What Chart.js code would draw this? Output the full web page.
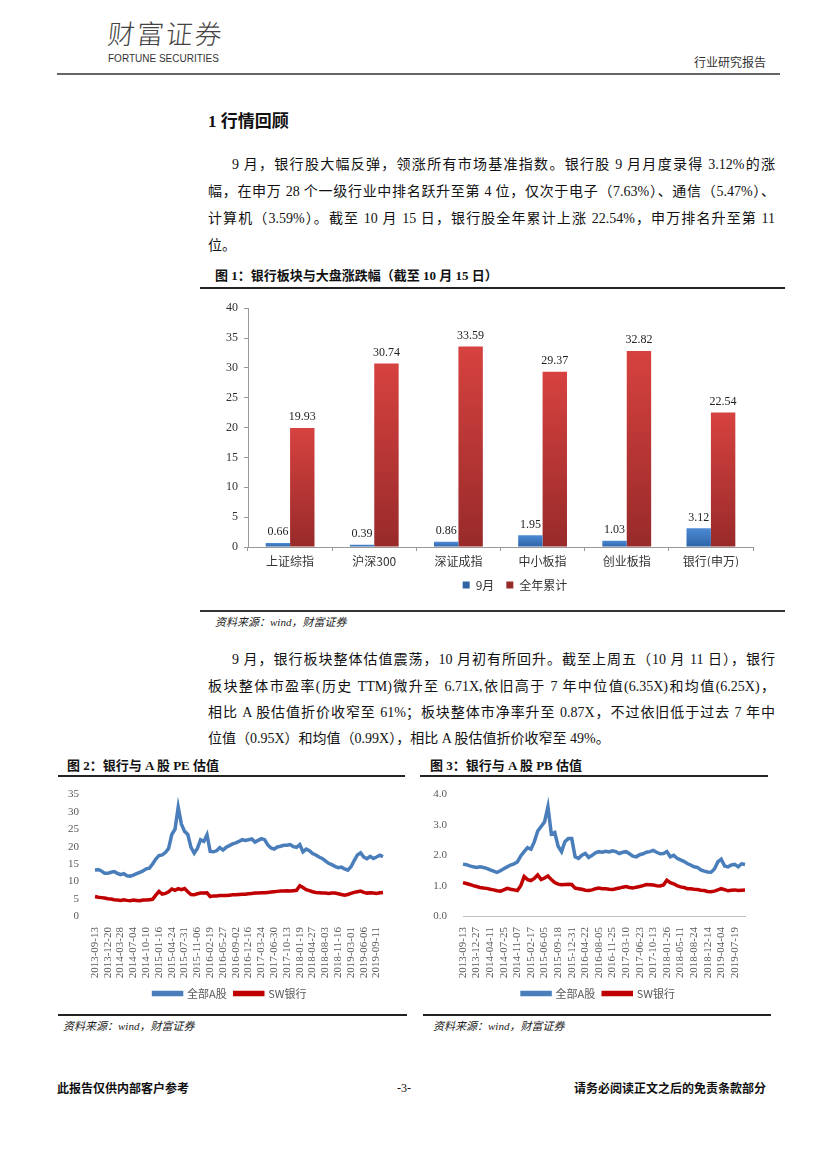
<!DOCTYPE html>
<html>
<head>
<meta charset="utf-8">
<script src="https://cdn.jsdelivr.net/npm/chart.js@4.4.0/dist/chart.umd.min.js"></script>
<style>
    body { margin: 0; background: #fff; }
    #page { position: relative; width: 827px; height: 1169px; overflow: hidden; font-family: "Liberation Serif", "Noto Sans CJK SC", serif; color: #111; }
    .abs { position: absolute; }
    .ln { position: absolute; left: 208px; width: 567px; font-size: 14px; line-height: 20px; text-align: justify; text-align-last: justify; }
    .last { text-align-last: left; }
    .ttl { position: absolute; font-size: 13px; font-weight: bold; line-height: 20px; }
    .rule { position: absolute; height: 2px; background: #222; }
    .src { position: absolute; font-size: 11px; font-style: italic; line-height: 18px; color: #222; }
    canvas { position: absolute; }
</style>
</head>
<body>
<div id="page">
    <div class="abs" style="left:108px;top:15px;font-size:27px;line-height:36px;color:#444;font-family:'Noto Sans CJK SC';font-weight:300;transform:skewX(-6deg);letter-spacing:2px;">财富证券</div>
    <div class="abs" style="left:108px;top:53px;font-size:10px;line-height:12px;color:#333;font-family:'Liberation Sans Narrow','Liberation Sans';">FORTUNE SECURITIES</div>
    <div class="abs" style="left:694px;top:54px;font-size:12px;line-height:16px;color:#333;font-family:'Noto Sans CJK SC';">行业研究报告</div>
    <div class="abs" style="left:57px;top:73px;width:723px;height:2px;background:#666;"></div>

    <div class="abs" style="left:208px;top:112px;font-size:17px;line-height:20px;font-weight:bold;">1 行情回顾</div>

    <div class="ln" style="top:155px;padding-left:24px;width:543px;">9 月，银行股大幅反弹，领涨所有市场基准指数。银行股 9 月月度录得 3.12%的涨</div>
    <div class="ln" style="top:182px;">幅，在申万 28 个一级行业中排名跃升至第 4 位，仅次于电子（7.63%）、通信（5.47%）、</div>
    <div class="ln" style="top:209px;">计算机（3.59%）。截至 10 月 15 日，银行股全年累计上涨 22.54%，申万排名升至第 11</div>
    <div class="ln last" style="top:236px;">位。</div>

    <div class="ttl" style="left:215px;top:266px;">图 1：银行板块与大盘涨跌幅（截至 10 月 15 日）</div>
    <div class="rule" style="left:200px;top:287px;width:585px;"></div>
    <canvas id="barChart" width="630" height="306" style="left:200px;top:295px;width:630px;height:306px;"></canvas>
    <div class="rule" style="left:200px;top:610px;width:585px;background:#333;"></div>
    <div class="src" style="left:215px;top:613px;">资料来源：wind，财富证券</div>

    <div class="ln" style="top:650px;padding-left:24px;width:543px;">9 月，银行板块整体估值震荡，10 月初有所回升。截至上周五（10 月 11 日），银行</div>
    <div class="ln" style="top:677px;">板块整体市盈率(历史 TTM)微升至 6.71X,依旧高于 7 年中位值(6.35X)和均值(6.25X)，</div>
    <div class="ln" style="top:703px;">相比 A 股估值折价收窄至 61%；板块整体市净率升至 0.87X，不过依旧低于过去 7 年中</div>
    <div class="ln last" style="top:729px;">位值（0.95X）和均值（0.99X），相比 A 股估值折价收窄至 49%。</div>

    <div class="ttl" style="left:67px;top:756px;">图 2：银行与 A 股 PE 估值</div>
    <div class="rule" style="left:58px;top:775px;width:347px;"></div>
    <div class="ttl" style="left:430px;top:756px;">图 3：银行与 A 股 PB 估值</div>
    <div class="rule" style="left:420px;top:775px;width:348px;"></div>

    <canvas id="peChart" width="380" height="229" style="left:40px;top:780px;width:380px;height:229px;"></canvas>
    <canvas id="pbChart" width="353" height="229" style="left:422px;top:780px;width:353px;height:229px;"></canvas>

    <div class="rule" style="left:58px;top:1014px;width:349px;"></div>
    <div class="rule" style="left:423px;top:1014px;width:348px;"></div>
    <div class="src" style="left:63px;top:1017px;">资料来源：wind，财富证券</div>
    <div class="src" style="left:433px;top:1017px;">资料来源：wind，财富证券</div>

    <div class="abs" style="left:57px;top:1079px;font-size:12px;line-height:18px;font-weight:bold;font-family:'Noto Sans CJK SC';">此报告仅供内部客户参考</div>
    <div class="abs" style="left:397px;top:1079px;font-size:12px;line-height:18px;">-3-</div>
    <div class="abs" style="left:560px;top:1079px;width:206px;text-align:right;font-size:12px;line-height:18px;font-weight:bold;font-family:'Noto Sans CJK SC';">请务必阅读正文之后的免责条款部分</div>
</div>

<script>
// 图1
var barCategories = ['上证综指', '沪深300', '深证成指', '中小板指', '创业板指', '银行(申万)'];
var septChange = [0.66, 0.39, 0.86, 1.95, 1.03, 3.12];
var ytdChange = [19.93, 30.74, 33.59, 29.37, 32.82, 22.54];

// 图2 PE
var peTicks = ['2013-09-13', '2013-12-20', '2014-03-28', '2014-07-04', '2014-10-10', '2015-01-16',
    '2015-04-24', '2015-07-31', '2015-11-06', '2016-02-19', '2016-05-27', '2016-09-02', '2016-12-16',
    '2017-03-24', '2017-06-30', '2017-10-13', '2018-01-19', '2018-04-27', '2018-08-03', '2018-11-16',
    '2019-03-01', '2019-06-06', '2019-09-11'];
var peAllA = [13.2, 13.4, 13.0, 12.3, 12.3, 12.6, 12.8, 12.3, 11.9, 12.2,
    11.6, 11.5, 11.8, 12.2, 12.6, 13.0, 13.6, 13.8, 15.0, 16.4,
    17.4, 17.6, 18.3, 19.5, 23.5, 25.0, 31.4, 26.5, 24.4, 23.5,
    19.8, 18.1, 19.5, 22.0, 21.5, 23.4, 18.6, 18.5, 18.8, 19.7,
    19.0, 19.8, 20.3, 20.8, 21.1, 21.5, 22.0, 21.8, 22.0, 22.2,
    21.3, 21.8, 22.3, 22.0, 20.5, 19.6, 19.3, 19.9, 20.1, 20.4,
    20.4, 20.6, 20.0, 19.8, 20.6, 18.5, 19.3, 18.8, 18.0, 17.6,
    17.0, 16.6, 15.9, 15.2, 14.8, 14.3, 13.9, 14.1, 13.6, 13.2,
    14.2, 16.0, 17.6, 18.2, 17.0, 16.5, 17.2, 16.6, 17.0, 17.5,
    17.1];
var peBank = [5.6, 5.4, 5.3, 5.2, 5.0, 4.9, 4.7, 4.6, 4.5, 4.7,
    4.5, 4.4, 4.6, 4.5, 4.4, 4.6, 4.6, 4.7, 4.8, 6.0,
    7.1, 6.3, 6.5, 7.0, 7.8, 7.4, 7.9, 7.6, 7.9, 7.0,
    6.2, 6.1, 6.4, 6.6, 6.6, 6.7, 5.6, 5.8, 5.8, 5.9,
    5.9, 5.9, 6.0, 6.1, 6.1, 6.2, 6.3, 6.3, 6.4, 6.5,
    6.6, 6.6, 6.7, 6.7, 6.8, 6.9, 7.0, 7.1, 7.2, 7.2,
    7.3, 7.2, 7.3, 7.4, 8.7, 8.2, 7.6, 7.3, 7.0, 6.8,
    6.7, 6.6, 6.6, 6.5, 6.6, 6.6, 6.4, 6.2, 6.0, 6.2,
    6.5, 6.8, 7.0, 7.2, 6.8, 6.6, 6.7, 6.6, 6.5, 6.7,
    6.8];

// 图3 PB
var pbTicks = ['2013-09-13', '2013-12-27', '2014-04-11', '2014-07-25', '2014-11-07', '2015-02-17',
    '2015-06-05', '2015-09-18', '2015-12-31', '2016-04-22', '2016-08-05', '2016-11-25', '2017-03-10',
    '2017-06-23', '2017-10-13', '2018-01-26', '2018-05-11', '2018-08-24', '2018-12-14', '2019-04-04',
    '2019-07-19'];
var pbAllA = [1.71, 1.69, 1.65, 1.62, 1.60, 1.62, 1.60, 1.57, 1.52, 1.48,
    1.44, 1.49, 1.56, 1.62, 1.68, 1.72, 1.78, 1.98, 2.12, 2.25,
    2.20, 2.45, 2.80, 2.95, 3.10, 3.60, 2.70, 2.75, 2.30, 2.12,
    2.45, 2.55, 2.55, 1.95, 1.90, 2.00, 2.06, 1.93, 2.00, 2.08,
    2.12, 2.10, 2.13, 2.11, 2.15, 2.12, 2.06, 2.10, 2.12, 2.05,
    1.97, 1.95, 2.02, 2.05, 2.10, 2.12, 2.16, 2.10, 2.05, 2.06,
    2.12, 1.95, 2.00, 1.90, 1.85, 1.80, 1.73, 1.68, 1.62, 1.60,
    1.52, 1.48, 1.45, 1.44, 1.55, 1.78, 1.87, 1.65, 1.62, 1.68,
    1.70, 1.62, 1.72, 1.70];
var pbBank = [1.10, 1.07, 1.04, 1.00, 0.97, 0.94, 0.92, 0.91, 0.88, 0.86,
    0.83, 0.82, 0.86, 0.91, 0.88, 0.86, 0.84, 1.00, 1.30, 1.20,
    1.17, 1.24, 1.35, 1.20, 1.25, 1.32, 1.20, 1.10, 1.05, 1.03,
    1.04, 1.05, 1.04, 0.92, 0.90, 0.88, 0.85, 0.84, 0.86, 0.90,
    0.92, 0.90, 0.90, 0.88, 0.87, 0.90, 0.92, 0.95, 0.97, 0.94,
    0.92, 0.95, 0.97, 1.00, 1.04, 1.03, 1.02, 1.00, 0.99, 1.02,
    1.18, 1.10, 1.06, 1.00, 0.96, 0.94, 0.90, 0.90, 0.88, 0.87,
    0.85, 0.84, 0.81, 0.80, 0.82, 0.86, 0.90, 0.87, 0.83, 0.85,
    0.86, 0.84, 0.85, 0.86];

var pointsPerTick = 4;

Chart.defaults.font.family = '"Liberation Serif", "Noto Sans CJK SC", serif';
Chart.defaults.color = '#404040';
Chart.defaults.animation = false;

function barGradient(top, bottom, flat) {
    return function (context) {
        var chart = context.chart;
        var y = chart.scales.y;
        if (!chart.chartArea || !y || context.raw == null) return flat;
        var y0 = y.getPixelForValue(0);
        var y1 = y.getPixelForValue(context.raw);
        if (!isFinite(y0) || !isFinite(y1) || y0 === y1) return flat;
        var g = chart.ctx.createLinearGradient(0, y1, 0, y0);
        g.addColorStop(0, top);
        g.addColorStop(1, bottom);
        return g;
    };
}

// empty scale on the right, only there to move the legend like in the original
function spacerAxis(width) {
    return {
        position: 'right',
        display: true,
        grid: { display: false },
        border: { display: false },
        ticks: { display: false },
        afterFit: function (scale) { scale.width = width; }
    };
}

var barValueLabels = {
    id: 'barValueLabels',
    afterDatasetsDraw: function (chart) {
        var ctx = chart.ctx;
        ctx.save();
        ctx.font = '12px "Liberation Serif"';
        ctx.fillStyle = '#222';
        ctx.textAlign = 'center';
        ctx.textBaseline = 'middle';
        chart.data.datasets.forEach(function (ds, i) {
            chart.getDatasetMeta(i).data.forEach(function (bar, j) {
                ctx.fillText(ds.data[j].toFixed(2), bar.x, bar.y - 11);
            });
        });
        ctx.restore();
    }
};

new Chart(document.getElementById('barChart'), {
    type: 'bar',
    data: {
        labels: barCategories,
        datasets: [{
            label: '9月',
            data: septChange,
            backgroundColor: barGradient('#4b8ad4', '#2f63a6', '#3a74c0')
        }, {
            label: '全年累计',
            data: ytdChange,
            backgroundColor: barGradient('#d6423f', '#982a2a', '#c23a36')
        }]
    },
    options: {
        responsive: false,
        layout: { padding: { top: 12, right: 0, left: 0, bottom: 0 } },
        datasets: { bar: { categoryPercentage: 0.58, barPercentage: 1.0 } },
        scales: {
            x: {
                grid: { display: true, drawOnChartArea: false, tickLength: 4, color: '#999', offset: true },
                border: { color: '#999' },
                ticks: { font: { size: 12, family: '"Noto Sans CJK SC"' }, color: '#333', padding: 3, maxRotation: 0 },
                afterFit: function (scale) { scale.height = 20; }
            },
            y: {
                min: 0, max: 40,
                grid: { display: true, drawOnChartArea: false, tickLength: 4, color: '#999' },
                border: { color: '#999' },
                ticks: { stepSize: 5, font: { size: 12 }, color: '#333', padding: 6 },
                afterFit: function (scale) { scale.width = 48; }
            },
            spacer: spacerAxis(77)
        },
        plugins: {
            legend: {
                position: 'bottom',
                labels: { boxWidth: 7, boxHeight: 7, font: { size: 12, family: '"Noto Sans CJK SC"' }, color: '#333', padding: 12 }
            },
            tooltip: { enabled: false }
        }
    },
    plugins: [barValueLabels]
});

function tickLabels(ticks, count) {
    var labels = [];
    for (var i = 0; i < count; i++) {
        labels.push(i % pointsPerTick === 0 ? (ticks[i / pointsPerTick] || '') : '');
    }
    return labels;
}

function drawValuation(id, ticks, allA, bank, yMax, yStep, decimals, showBase, yWidth, rightWidth) {
    new Chart(document.getElementById(id), {
        type: 'line',
        data: {
            labels: tickLabels(ticks, allA.length),
            datasets: [{
                label: '全部A股',
                data: allA,
                borderColor: '#4a7ebb',
                backgroundColor: '#4a7ebb',
                borderWidth: 3.5,
                pointRadius: 0,
                tension: 0
            }, {
                label: 'SW银行',
                data: bank,
                borderColor: '#c00000',
                backgroundColor: '#c00000',
                borderWidth: 3.5,
                pointRadius: 0,
                tension: 0
            }]
        },
        options: {
            responsive: false,
            layout: { padding: { top: 12, right: 0, left: 0, bottom: 0 } },
            scales: {
                x: {
                    offset: false,
                    grid: { display: false },
                    border: { display: showBase, color: '#bfbfbf', width: 1 },
                    ticks: { autoSkip: false, minRotation: 90, maxRotation: 90, font: { size: 11 }, color: '#595959', padding: 3 },
                    afterFit: function (scale) { scale.height = 64; }
                },
                y: {
                    min: 0, max: yMax,
                    grid: { display: false },
                    border: { display: false },
                    ticks: {
                        stepSize: yStep, font: { size: 11 }, color: '#595959', padding: 8,
                        callback: function (v) { return v.toFixed(decimals); }
                    },
                    afterFit: function (scale) { scale.width = yWidth; }
                },
                spacer: spacerAxis(rightWidth)
            },
            plugins: {
                legend: {
                    position: 'bottom',
                    labels: { boxWidth: 28, boxHeight: 2, font: { size: 11, family: '"Noto Sans CJK SC"' }, color: '#595959', padding: 8 }
                },
                tooltip: { enabled: false }
            }
        }
    });
}

drawValuation('peChart', peTicks, peAllA, peBank, 35, 5, 0, false, 55, 37);
drawValuation('pbChart', pbTicks, pbAllA, pbBank, 4, 0.5, 1, true, 41, 30);
</script>
</body>
</html>
